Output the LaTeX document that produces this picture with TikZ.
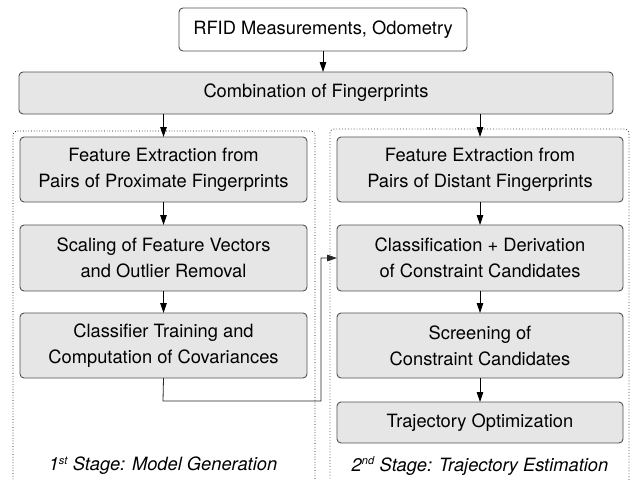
\documentclass[tikz,border=0pt]{standalone}
\usepackage{fontspec}
\setmainfont{TeX Gyre Heros}
\usetikzlibrary{arrows.meta}
\definecolor{boxfill}{HTML}{E6E6E6}
\definecolor{boxline}{HTML}{505050}
\begin{document}
\begin{tikzpicture}[x=1pt,y=-1pt,
  stagebox/.style={draw=boxline,fill=boxfill,line width=0.9pt,rounded corners=4pt,
    align=center,inner sep=0pt,outer sep=0pt,font=\fontsize{18.3}{26}\selectfont},
  lbox/.style={stagebox,minimum width=287pt,minimum height=65pt},
  rbox/.style={stagebox,minimum width=286pt,minimum height=65pt},
  flow/.style={draw=black,line width=0.8pt,-{Triangle[length=10pt,width=6.5pt]}},
  frameL/.style={draw=black,line width=0.7pt,dotted,rounded corners=4pt},
  frameR/.style={draw=black!70,line width=0.9pt,dotted,rounded corners=4pt},
  stagelabel/.style={font=\fontsize{18.3}{21}\selectfont\itshape,inner sep=0pt}]
\useasboundingbox (0,0) rectangle (631,479);
\clip (0,0) rectangle (631,479);
% frames
\draw[frameL] (13,490) -- (13,131) -- (315,131) -- (315,490);
\draw[frameR] (330,490) -- (330,129) -- (629,129) -- (629,490);
% nodes
\node[stagebox,fill=white,minimum width=288pt,minimum height=43pt] (rfid) at (323,29.5) {RFID Measurements, Odometry};
\node[stagebox,minimum width=594pt,minimum height=42pt] (comb) at (316,93) {Combination of Fingerprints};
\node[lbox] (l1) at (163.5,169.5) {Feature Extraction from\\Pairs of Proximate Fingerprints};
\node[lbox,minimum height=66pt] (l2) at (163.5,258) {Scaling of Feature Vectors\\and Outlier Removal};
\node[lbox] (l3) at (163.5,345.5) {Classifier Training and\\Computation of Covariances};
\node[rbox] (r1) at (480,169.5) {Feature Extraction from\\Pairs of Distant Fingerprints};
\node[rbox,minimum height=66pt] (r2) at (480,258) {Classification + Derivation\\of Constraint Candidates};
\node[rbox] (r3) at (480,345.5) {Screening of\\Constraint Candidates};
\node[rbox,minimum height=41pt] (r4) at (480,422.5) {Trajectory Optimization};
\node[stagelabel] (lab1) at (163,466) {1\textsuperscript{\fontsize{11}{11}\selectfont st} Stage: Model Generation};
\node[stagelabel] (lab2) at (480,466) {2\textsuperscript{\fontsize{11}{11}\selectfont nd} Stage: Trajectory Estimation};
\coordinate (c1) at (163,401);
\coordinate (c2) at (321,401);
% connectors
\draw[flow] (rfid.south) -- (rfid.south |- comb.north);
\draw[flow] (l1.north |- comb.south) -- (l1.north);
\draw[flow] (r1.north |- comb.south) -- (r1.north);
\draw[flow] (l1) -- (l2);
\draw[flow] (l2) -- (l3);
\draw[flow] (r1) -- (r2);
\draw[flow] (r2) -- (r3);
\draw[flow] (r3) -- (r4);
\draw[flow,draw=black!85] (l3.south) -- (c1) -- (c2) -- (c2 |- r2.west) -- (r2.west);
\end{tikzpicture}
\end{document}
